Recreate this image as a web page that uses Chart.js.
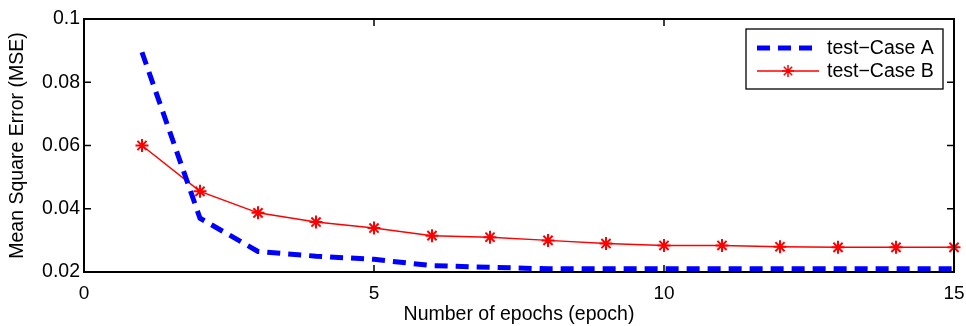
<!DOCTYPE html>
<html>
<head>
<meta charset="utf-8">
<script src="https://cdn.jsdelivr.net/npm/chart.js@4"></script>
<style>
  html, body { margin: 0; padding: 0; background: #fff; }
  #wrap { width: 966px; height: 326px; }
</style>
</head>
<body>
<div id="wrap"><canvas id="mseChart" width="966" height="326"></canvas></div>
<script>
// Values
const epochs = [1, 2, 3, 4, 5, 6, 7, 8, 9, 10, 11, 12, 13, 14, 15];
const caseA = [0.0895, 0.037, 0.0265, 0.025, 0.024, 0.022, 0.0215, 0.021, 0.021, 0.021, 0.021, 0.021, 0.021, 0.021, 0.021];
const caseB = [0.060, 0.0455, 0.0387, 0.0358, 0.0339, 0.0315, 0.031, 0.030, 0.029, 0.0284, 0.0284, 0.028, 0.0278, 0.0278, 0.0278];
const seriesNames = ['test\u2212Case A', 'test\u2212Case B'];
const xTicks = [0, 5, 10, 15];
const yTicks = [0.02, 0.04, 0.06, 0.08, 0.1];

const FONT = '"Liberation Sans", Arial, sans-serif';

function toPoints(ys) {
    return epochs.map((e, i) => ({ x: e, y: ys[i] }));
}

// Draws the MATLAB-style box, inward ticks and the legend inside the axes
const matlabFrame = {
    id: 'matlabFrame',
    afterDraw(chart) {
        const ctx = chart.ctx;
        const a = chart.chartArea;
        const xs = chart.scales.x;
        const ys = chart.scales.y;
        ctx.save();
        ctx.strokeStyle = '#000';
        ctx.lineWidth = 2;
        ctx.strokeRect(a.left, a.top, a.right - a.left, a.bottom - a.top);

        const len = 7;
        ctx.lineWidth = 1.5;
        ctx.beginPath();
        xTicks.forEach(v => {
            const px = xs.getPixelForValue(v);
            ctx.moveTo(px, a.bottom); ctx.lineTo(px, a.bottom - len);
            ctx.moveTo(px, a.top); ctx.lineTo(px, a.top + len);
        });
        yTicks.forEach(v => {
            const py = ys.getPixelForValue(v);
            ctx.moveTo(a.left, py); ctx.lineTo(a.left + len, py);
            ctx.moveTo(a.right, py); ctx.lineTo(a.right - len, py);
        });
        ctx.stroke();

        // legend box
        const bx = a.right - 208, by = a.top + 10, bw = 197, bh = 60;
        ctx.fillStyle = '#fff';
        ctx.fillRect(bx, by, bw, bh);
        ctx.lineWidth = 1.3;
        ctx.strokeRect(bx, by, bw, bh);

        const ds = chart.data.datasets;
        const rows = [by + 19, by + 42];
        ds.forEach((d, i) => {
            const y = rows[i];
            ctx.save();
            ctx.strokeStyle = d.borderColor;
            ctx.lineWidth = d.borderWidth;
            ctx.setLineDash(d.borderDash || []);
            ctx.beginPath();
            ctx.moveTo(bx + 11, y);
            ctx.lineTo(bx + 73, y);
            ctx.stroke();
            ctx.restore();
            if (i === 1) {
                ctx.save();
                ctx.strokeStyle = d.borderColor;
                ctx.lineWidth = 1.5;
                const cx = bx + 42, r = 6;
                ctx.beginPath();
                ctx.moveTo(cx - r, y); ctx.lineTo(cx + r, y);
                ctx.moveTo(cx, y - r); ctx.lineTo(cx, y + r);
                ctx.moveTo(cx - r * 0.7, y - r * 0.7); ctx.lineTo(cx + r * 0.7, y + r * 0.7);
                ctx.moveTo(cx - r * 0.7, y + r * 0.7); ctx.lineTo(cx + r * 0.7, y - r * 0.7);
                ctx.stroke();
                ctx.restore();
            }
            ctx.fillStyle = '#000';
            ctx.font = '19.5px ' + FONT;
            ctx.textBaseline = 'middle';
            ctx.textAlign = 'left';
            ctx.fillText(d.label, bx + 81, y + 1);
        });
        ctx.restore();
    }
};

const ctx = document.getElementById('mseChart').getContext('2d');

new Chart(ctx, {
    type: 'line',
    data: {
        datasets: [{
            label: seriesNames[0],
            data: toPoints(caseA),
            borderColor: '#0000ff',
            borderWidth: 5,
            borderDash: [13, 8],
            pointRadius: 0,
            tension: 0,
            clip: false
        }, {
            label: seriesNames[1],
            data: toPoints(caseB),
            borderColor: '#ff0000',
            backgroundColor: '#ff0000',
            borderWidth: 1.5,
            pointStyle: 'star',
            pointRadius: 6.5,
            pointBorderWidth: 2,
            tension: 0,
            clip: false
        }]
    },
    options: {
        responsive: false,
        animation: false,
        layout: { padding: { top: 19, right: 12, left: 0, bottom: 0 } },
        plugins: {
            legend: { display: false },
            tooltip: { enabled: false }
        },
        scales: {
            x: {
                type: 'linear',
                min: 0,
                max: 15,
                afterBuildTicks: s => { s.ticks = xTicks.map(v => ({ value: v })); },
                afterFit: s => { s.height = 54; s.paddingLeft = 0; s.paddingRight = 0; },
                grid: { display: false, drawTicks: false },
                border: { display: false },
                ticks: {
                    color: '#000',
                    padding: 10,
                    font: { family: FONT, size: 19 },
                    maxRotation: 0
                },
                title: {
                    display: true,
                    text: 'Number of epochs (epoch)',
                    color: '#000',
                    font: { family: FONT, size: 19.5 },
                    padding: { top: 0, bottom: 0 }
                }
            },
            y: {
                min: 0.02,
                max: 0.1,
                afterBuildTicks: s => { s.ticks = yTicks.map(v => ({ value: v })); },
                afterFit: s => { s.width = 84; s.paddingTop = 0; s.paddingBottom = 0; },
                grid: { display: false, drawTicks: false },
                border: { display: false },
                ticks: {
                    color: '#000',
                    padding: 4,
                    font: { family: FONT, size: 19.5 },
                    callback: v => String(Math.round(v * 100) / 100)
                },
                title: {
                    display: true,
                    text: 'Mean Square Error (MSE)',
                    color: '#000',
                    font: { family: FONT, size: 19.5 },
                    padding: { top: 6, bottom: 0 }
                }
            }
        }
    },
    plugins: [matlabFrame]
});
</script>
</body>
</html>
